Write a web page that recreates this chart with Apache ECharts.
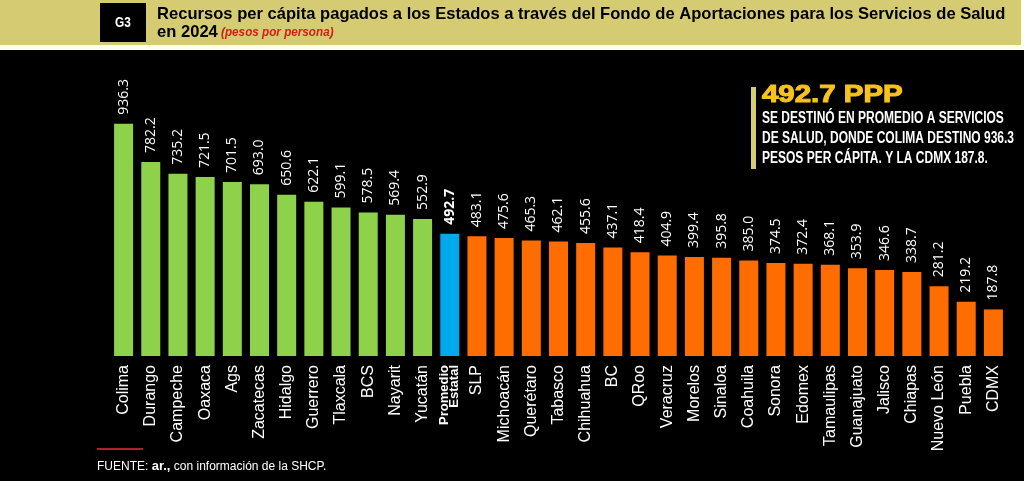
<!DOCTYPE html>
<html><head><meta charset="utf-8">
<script src="https://cdn.jsdelivr.net/npm/echarts@6/dist/echarts.min.js"></script>
<style>html,body{margin:0;padding:0;background:#000;}#c{width:1024px;height:481px;}</style>
</head><body><div id="c"></div>
<script>
const categories = ["Colima","Durango","Campeche","Oaxaca","Ags","Zacatecas","Hidalgo","Guerrero","Tlaxcala","BCS","Nayarit","Yucatán","Promedio Estatal","SLP","Michoacán","Querétaro","Tabasco","Chihuahua","BC","QRoo","Veracruz","Morelos","Sinaloa","Coahuila","Sonora","Edomex","Tamaulipas","Guanajuato","Jalisco","Chiapas","Nuevo León","Puebla","CDMX"];
const values = [936.3,782.2,735.2,721.5,701.5,693.0,650.6,622.1,599.1,578.5,569.4,552.9,492.7,483.1,475.6,465.3,462.1,455.6,437.1,418.4,404.9,399.4,395.8,385.0,374.5,372.4,368.1,353.9,346.6,338.7,281.2,219.2,187.8];
const averageName = "Promedio Estatal";
const averageValue = 492.7;

const GREEN = '#8ed14a', BLUE = '#00a8ec', ORANGE = '#ff6c00';
const data = values.map((v, i) => {
  const c = categories[i];
  const isAvg = c === averageName;
  return {
    value: v,
    itemStyle: { color: isAvg ? BLUE : (v > averageValue ? GREEN : ORANGE) },
    label: isAvg ? { fontWeight: 'bold' } : undefined
  };
});

const chart = echarts.init(document.getElementById('c'));
chart.setOption({
  backgroundColor: '#000',
  animation: false,
  grid: { left: 110, right: 17, top: 108, bottom: 125 },
  xAxis: {
    type: 'category', data: categories,
    axisLine: { show: false }, axisTick: { show: false },
    axisLabel: {
      rotate: 90, interval: 0, color: '#fff', fontSize: 16, margin: 9,
      fontFamily: 'Liberation Sans, Arial, sans-serif',
      formatter: v => v === averageName ? '{b|Promedio}\n{b|Estatal}' : v,
      rich: { b: { fontWeight: 'bold', fontSize: 13, lineHeight: 10, color: '#fff', fontFamily: 'Liberation Sans, sans-serif' } }
    }
  },
  yAxis: { type: 'value', min: 0, max: 1000, show: false, splitLine: { show: false } },
  series: [{
    type: 'bar', data: data, barWidth: 19,
    label: {
      show: true, position: 'top', rotate: 90, align: 'left', verticalAlign: 'middle',
      distance: 9, color: '#fff', fontSize: 14,
      fontFamily: 'Open Sans, Noto Sans, sans-serif',
      formatter: p => p.value.toFixed(1)
    }
  }],
  graphic: [
    { type: 'rect', shape: { x: 0, y: 0, width: 1024, height: 50 }, style: { fill: '#fffdf0' } },
    { type: 'rect', shape: { x: 0, y: 0, width: 1021, height: 45 }, style: { fill: '#d5cb72' } },
    { type: 'rect', shape: { x: 100, y: 3, width: 46, height: 39 }, style: { fill: '#000' } },
    { type: 'text', x: 123, y: 23, style: { text: 'G3', fill: '#fff', font: 'bold 14px Liberation Sans, sans-serif', align: 'center', verticalAlign: 'middle' }, scaleX: 0.85 },
    { type: 'text', x: 157, y: 6, scaleX: 0.975, style: { text: 'Recursos per cápita pagados a los Estados a través del Fondo de Aportaciones para los Servicios de Salud', fill: '#000', font: 'bold 17px Liberation Sans, Arial, sans-serif' } },
    { type: 'text', x: 157, y: 24, scaleX: 0.975, style: { text: '{a|en 2024} {r|(pesos por persona)}', rich: {
      a: { fill: '#000', font: 'bold 17px Liberation Sans, Arial, sans-serif' },
      r: { fill: '#d0201a', font: 'italic bold 12px Liberation Sans, Arial, sans-serif' } } } },
    { type: 'rect', shape: { x: 751, y: 87, width: 5, height: 82 }, style: { fill: '#d5cb72' } },
    { type: 'text', x: 762, y: 84, scaleX: 1.28, style: { text: '492.7 PPP', fill: '#f7c21a', stroke: '#f7c21a', lineWidth: 1, font: 'bold 23px Liberation Sans, sans-serif' } },
    { type: 'text', x: 762, y: 109, scaleX: 0.75, style: { text: 'SE DESTINÓ EN PROMEDIO A SERVICIOS\nDE SALUD, DONDE COLIMA DESTINO 936.3\nPESOS PER CÁPITA. Y LA CDMX 187.8.', fill: '#fff', lineHeight: 20, font: 'bold 16px Liberation Sans, sans-serif' } },
    { type: 'rect', shape: { x: 97, y: 448, width: 46, height: 2 }, style: { fill: '#b3202a' } },
    { type: 'text', x: 97, y: 460, style: { text: '{n|FUENTE: }{b|ar.,}{n| con información de la SHCP.}', rich: {
      n: { fill: '#fff', font: '12px Liberation Sans, Arial, sans-serif' },
      b: { fill: '#fff', font: 'bold 13px Liberation Sans, Arial, sans-serif' } } } }
  ]
});
</script></body></html>
